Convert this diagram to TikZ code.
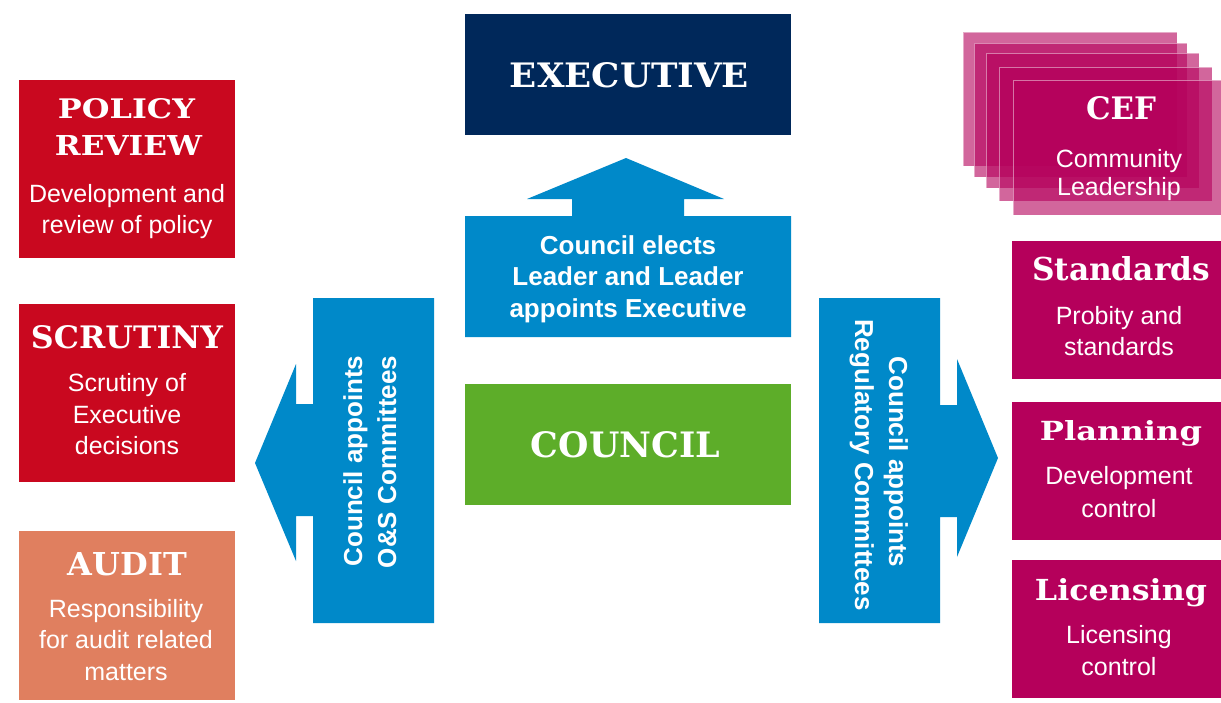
\documentclass[tikz,border=0pt]{standalone}
\usepackage{fontspec}
\usepackage{graphicx}
\setmainfont{Liberation Sans}
\newfontfamily\slab{DejaVu Serif}
% slab-serif heading scaled to a given width and height (in pt)
\newcommand\headfit[3]{\resizebox{#1pt}{#2pt}{\slab\bfseries #3}}

\definecolor{polred}{HTML}{C9081F}
\definecolor{auditorange}{HTML}{E07F5F}
\definecolor{execnavy}{HTML}{00285A}
\definecolor{arrowblue}{HTML}{0089C9}
\definecolor{councilgreen}{HTML}{5DAD29}
\definecolor{regpink}{HTML}{B5005B}

\tikzset{
  panel/.style={draw=none, inner sep=0pt, outer sep=0pt},
  hd/.style={anchor=base, inner sep=0pt, text=white},
  bd/.style={anchor=base, inner sep=0pt, text=white, font=\fontsize{25}{31}\selectfont},
  ad/.style={anchor=base, inner sep=0pt, text=white, font=\bfseries\fontsize{26}{31}\selectfont},
  sheet/.style={fill=regpink, fill opacity=0.6, draw=white, draw opacity=0.45, line width=1pt},
}

\begin{document}
\begin{tikzpicture}[x=1pt, y=-1pt]
\useasboundingbox (0,0) rectangle (1221,702);
\fill[white] (0,0) rectangle (1221,702);

% ---------- left column: overview & scrutiny ----------
\node[panel, fill=polred, minimum width=216, minimum height=178] (policy) at (127,169) {};
\node[hd] (policy-h1) at (126.5,118) {\headfit{137}{20}{POLICY}};
\node[hd] (policy-h2) at (128.5,155) {\headfit{147}{20}{REVIEW}};
\node[bd] (policy-b1) at (127,202) {Development and};
\node[bd] (policy-b2) at (127,233) {review of policy};

\node[panel, fill=polred, minimum width=216, minimum height=178] (scrutiny) at (127,393) {};
\node[hd] (scrutiny-h) at (127,348) {\headfit{192}{23}{SCRUTINY}};
\node[bd] (scrutiny-b1) at (127,391) {Scrutiny of};
\node[bd] (scrutiny-b2) at (127,423) {Executive};
\node[bd] (scrutiny-b3) at (127,454) {decisions};

\node[panel, fill=auditorange, minimum width=216, minimum height=169] (audit) at (127,615.5) {};
\node[hd] (audit-h) at (127.5,575) {\headfit{119}{23}{AUDIT}};
\node[bd] (audit-b1) at (126,617) {Responsibility};
\node[bd] (audit-b2) at (126,648) {for audit related};
\node[bd] (audit-b3) at (126,680) {matters};

% ---------- centre: executive, council and the upward arrow ----------
\node[panel, fill=execnavy, minimum width=326, minimum height=121] (exec) at (628,74.5) {};
\node[hd] (exec-h) at (629.5,87) {\headfit{239}{25}{EXECUTIVE}};

\fill[arrowblue] (465,337) -- (465,216) -- (572,216) -- (572,199) -- (527,199)
  -- (626,158) -- (724,199) -- (684,199) -- (684,216) -- (791,216) -- (791,337) -- cycle;
\node[ad] (up-1) at (628,254) {Council elects};
\node[ad] (up-2) at (628,285) {Leader and Leader};
\node[ad] (up-3) at (628,317) {appoints Executive};

\node[panel, fill=councilgreen, minimum width=326, minimum height=121] (council) at (628,444.5) {};
\node[hd] (council-h) at (625.5,457) {\headfit{189}{26}{COUNCIL}};

% ---------- left arrow: overview & scrutiny committees ----------
\fill[arrowblue] (434,298) -- (434,623) -- (313,623) -- (313,516) -- (296,516) -- (296,561)
  -- (255,463) -- (296,364) -- (296,404) -- (313,404) -- (313,298) -- cycle;
\node[ad, rotate=90] (left-1) at (362,461) {Council appoints};
\node[ad, rotate=90] (left-2) at (396,462) {O\&S Committees};

% ---------- right arrow: regulatory committees ----------
\fill[arrowblue] (819,298) -- (940,298) -- (940,405) -- (957,405) -- (957,359) -- (998,458)
  -- (957,557) -- (957,517) -- (940,517) -- (940,623) -- (819,623) -- cycle;
\node[ad, rotate=-90] (right-1) at (889,462) {Council appoints};
\node[ad, rotate=-90] (right-2) at (855,465) {Regulatory Committees};

% ---------- right column: stacked community forums ----------
\path[sheet] (963,32) rectangle (1177,166);
\path[sheet] (974,43) rectangle (1187,177);
\path[sheet] (986,53) rectangle (1199,188);
\path[sheet] (999,67) rectangle (1212,201);
\path[sheet] (1013,80) rectangle (1221,215);
\node[hd] (cef-h) at (1121,119) {\headfit{70}{23}{CEF}};
\node[bd] (cef-b1) at (1119,167) {Community};
\node[bd] (cef-b2) at (1119,195) {Leadership};

% ---------- right column: regulatory committees ----------
\node[panel, fill=regpink, minimum width=209, minimum height=138] (standards) at (1116.5,310) {};
\node[hd] (standards-h) at (1121,280) {\headfit{178}{24}{Standards}};
\node[bd] (standards-b1) at (1119,324) {Probity and};
\node[bd] (standards-b2) at (1119,355) {standards};

\node[panel, fill=regpink, minimum width=209, minimum height=138] (planning) at (1116.5,471) {};
\node[hd] (planning-h) at (1121,440) {\headfit{162}{20}{Planning}};
\node[bd] (planning-b1) at (1119,484) {Development};
\node[bd] (planning-b2) at (1119,517) {control};

\node[panel, fill=regpink, minimum width=209, minimum height=138] (licensing) at (1116.5,629) {};
\node[hd] (licensing-h) at (1121,600) {\headfit{172}{22}{Licensing}};
\node[bd] (licensing-b1) at (1119,643) {Licensing};
\node[bd] (licensing-b2) at (1119,675) {control};
\end{tikzpicture}
\end{document}
